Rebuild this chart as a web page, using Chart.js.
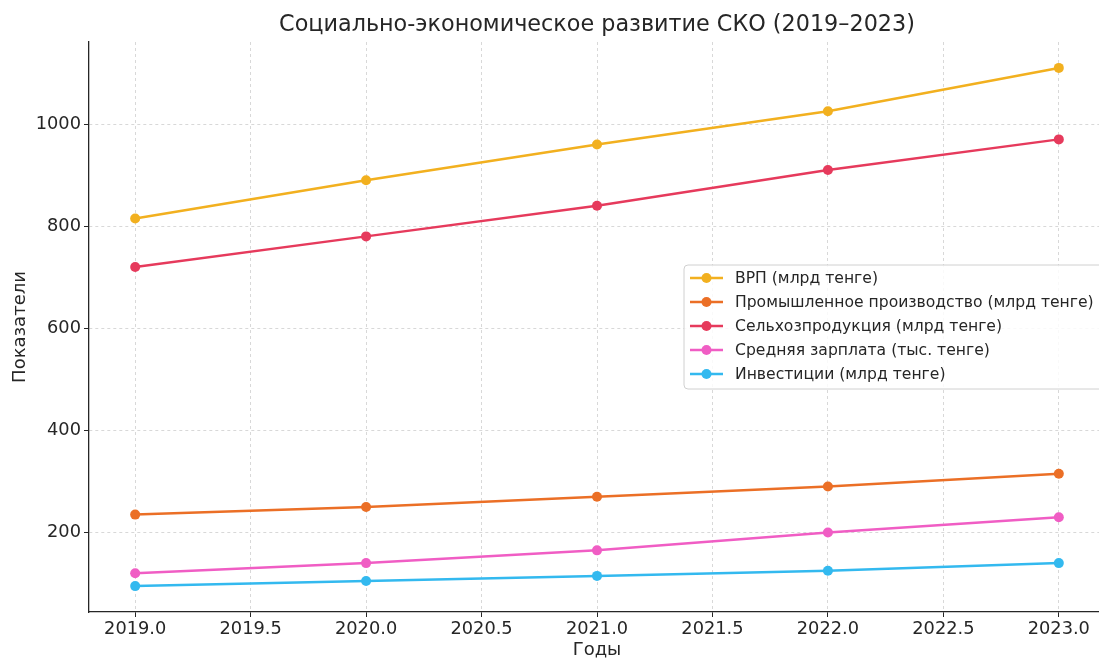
<!DOCTYPE html>
<html>
<head>
<meta charset="utf-8">
<script src="https://cdn.jsdelivr.net/npm/chart.js@4"></script>
<style>
  html, body { margin: 0; padding: 0; background: #fff; overflow: hidden; }
  #wrap { width: 1110px; height: 659px; }
</style>
</head>
<body>
<div id="wrap"><canvas id="c" width="1110" height="659"></canvas></div>
<script>
const chartTitle = 'Социально-экономическое развитие СКО (2019–2023)';
const xTitle = 'Годы';
const yTitle = 'Показатели';
const years = [2019, 2020, 2021, 2022, 2023];
const seriesNames = [
  'ВРП (млрд тенге)',
  'Промышленное производство (млрд тенге)',
  'Сельхозпродукция (млрд тенге)',
  'Средняя зарплата (тыс. тенге)',
  'Инвестиции (млрд тенге)'
];
const gdp = [815, 890, 960, 1025, 1110];
const industry = [235, 250, 270, 290, 315];
const agriculture = [720, 780, 840, 910, 970];
const salary = [120, 140, 165, 200, 230];
const investment = [95, 105, 115, 125, 140];
const seriesColors = ['#F2B01F', '#EB6F26', '#E63A5C', '#F05DC4', '#33B9EF'];
const xTicks = [2019.0, 2019.5, 2020.0, 2020.5, 2021.0, 2021.5, 2022.0, 2022.5, 2023.0];
const yTicks = [200, 400, 600, 800, 1000];

const allSeries = [gdp, industry, agriculture, salary, investment];
const FONT = '"DejaVu Sans", sans-serif';
const TXT = '#262626';

const datasets = allSeries.map((vals, i) => ({
  label: seriesNames[i],
  data: years.map((yr, j) => ({ x: yr, y: vals[j] })),
  borderColor: seriesColors[i],
  backgroundColor: seriesColors[i],
  pointBackgroundColor: seriesColors[i],
  pointBorderColor: seriesColors[i],
  pointRadius: 5,
  pointBorderWidth: 0,
  borderWidth: 2.5,
  tension: 0
}));

const overlay = {
  id: 'overlay',
  afterDraw(chart) {
    const ctx = chart.ctx;
    ctx.save();
    // title
    ctx.fillStyle = TXT;
    ctx.font = '22.3px ' + FONT;
    ctx.textAlign = 'center';
    ctx.textBaseline = 'middle';
    const ca = chart.chartArea;
    ctx.fillText(chartTitle, (ca.left + ca.right) / 2, 25);

    // legend
    const lx = 684, ly = 265, lw = 430, lh = 124;
    ctx.beginPath();
    if (ctx.roundRect) ctx.roundRect(lx, ly, lw, lh, 4); else ctx.rect(lx, ly, lw, lh);
    ctx.fillStyle = 'rgba(255,255,255,0.85)';
    ctx.fill();
    ctx.strokeStyle = '#d0d0d0';
    ctx.lineWidth = 1;
    ctx.stroke();
    ctx.font = '15.6px ' + FONT;
    ctx.textAlign = 'left';
    ctx.textBaseline = 'middle';
    chart.data.datasets.forEach((ds, i) => {
      const y = 278 + i * 24;
      ctx.strokeStyle = ds.borderColor;
      ctx.lineWidth = 2.5;
      ctx.beginPath();
      ctx.moveTo(690, y);
      ctx.lineTo(723, y);
      ctx.stroke();
      ctx.fillStyle = ds.borderColor;
      ctx.beginPath();
      ctx.arc(706.5, y, 5, 0, Math.PI * 2);
      ctx.fill();
      ctx.fillStyle = TXT;
      ctx.fillText(ds.label, 735, y + 1);
    });
    ctx.restore();
  }
};

new Chart(document.getElementById('c'), {
  type: 'line',
  data: { datasets },
  options: {
    responsive: false,
    animation: false,
    devicePixelRatio: 1,
    layout: { padding: { top: 42, left: 0, right: 0, bottom: 0 } },
    plugins: { legend: { display: false }, title: { display: false }, tooltip: { enabled: false } },
    scales: {
      x: {
        type: 'linear',
        min: 2018.8,
        max: 2023.2,
        afterBuildTicks: s => { s.ticks = xTicks.map(v => ({ value: v })); },
        afterFit: s => { s.height = 47; },
        ticks: {
          color: TXT,
          font: { family: FONT, size: 17.8 },
          padding: 2,
          maxRotation: 0,
          autoSkip: false,
          callback: v => Number(v).toFixed(1)
        },
        grid: { color: '#cfcfcf', lineWidth: 0.8, tickColor: '#262626', tickLength: 5, tickWidth: 1, tickBorderDash: [] },
        border: { display: true, color: '#262626', width: 1.3, dash: [3, 3] },
        title: { display: true, text: xTitle, color: TXT, font: { family: FONT, size: 18, lineHeight: 1.0 }, padding: { top: 0, bottom: 0 } }
      },
      y: {
        type: 'linear',
        min: 44.25,
        max: 1160.75,
        afterBuildTicks: s => { s.ticks = yTicks.map(v => ({ value: v })); },
        afterFit: s => { s.width = 89; },
        ticks: {
          color: TXT,
          font: { family: FONT, size: 17.8 },
          padding: 3,
          callback: v => String(v)
        },
        grid: { color: '#cfcfcf', lineWidth: 0.8, tickColor: '#262626', tickLength: 5, tickWidth: 1, tickBorderDash: [] },
        border: { display: true, color: '#262626', width: 1.3, dash: [3, 3] },
        title: { display: true, text: yTitle, color: TXT, font: { family: FONT, size: 18 }, padding: { top: 10, bottom: 0 } }
      }
    }
  },
  plugins: [overlay]
});
</script>
</body>
</html>
